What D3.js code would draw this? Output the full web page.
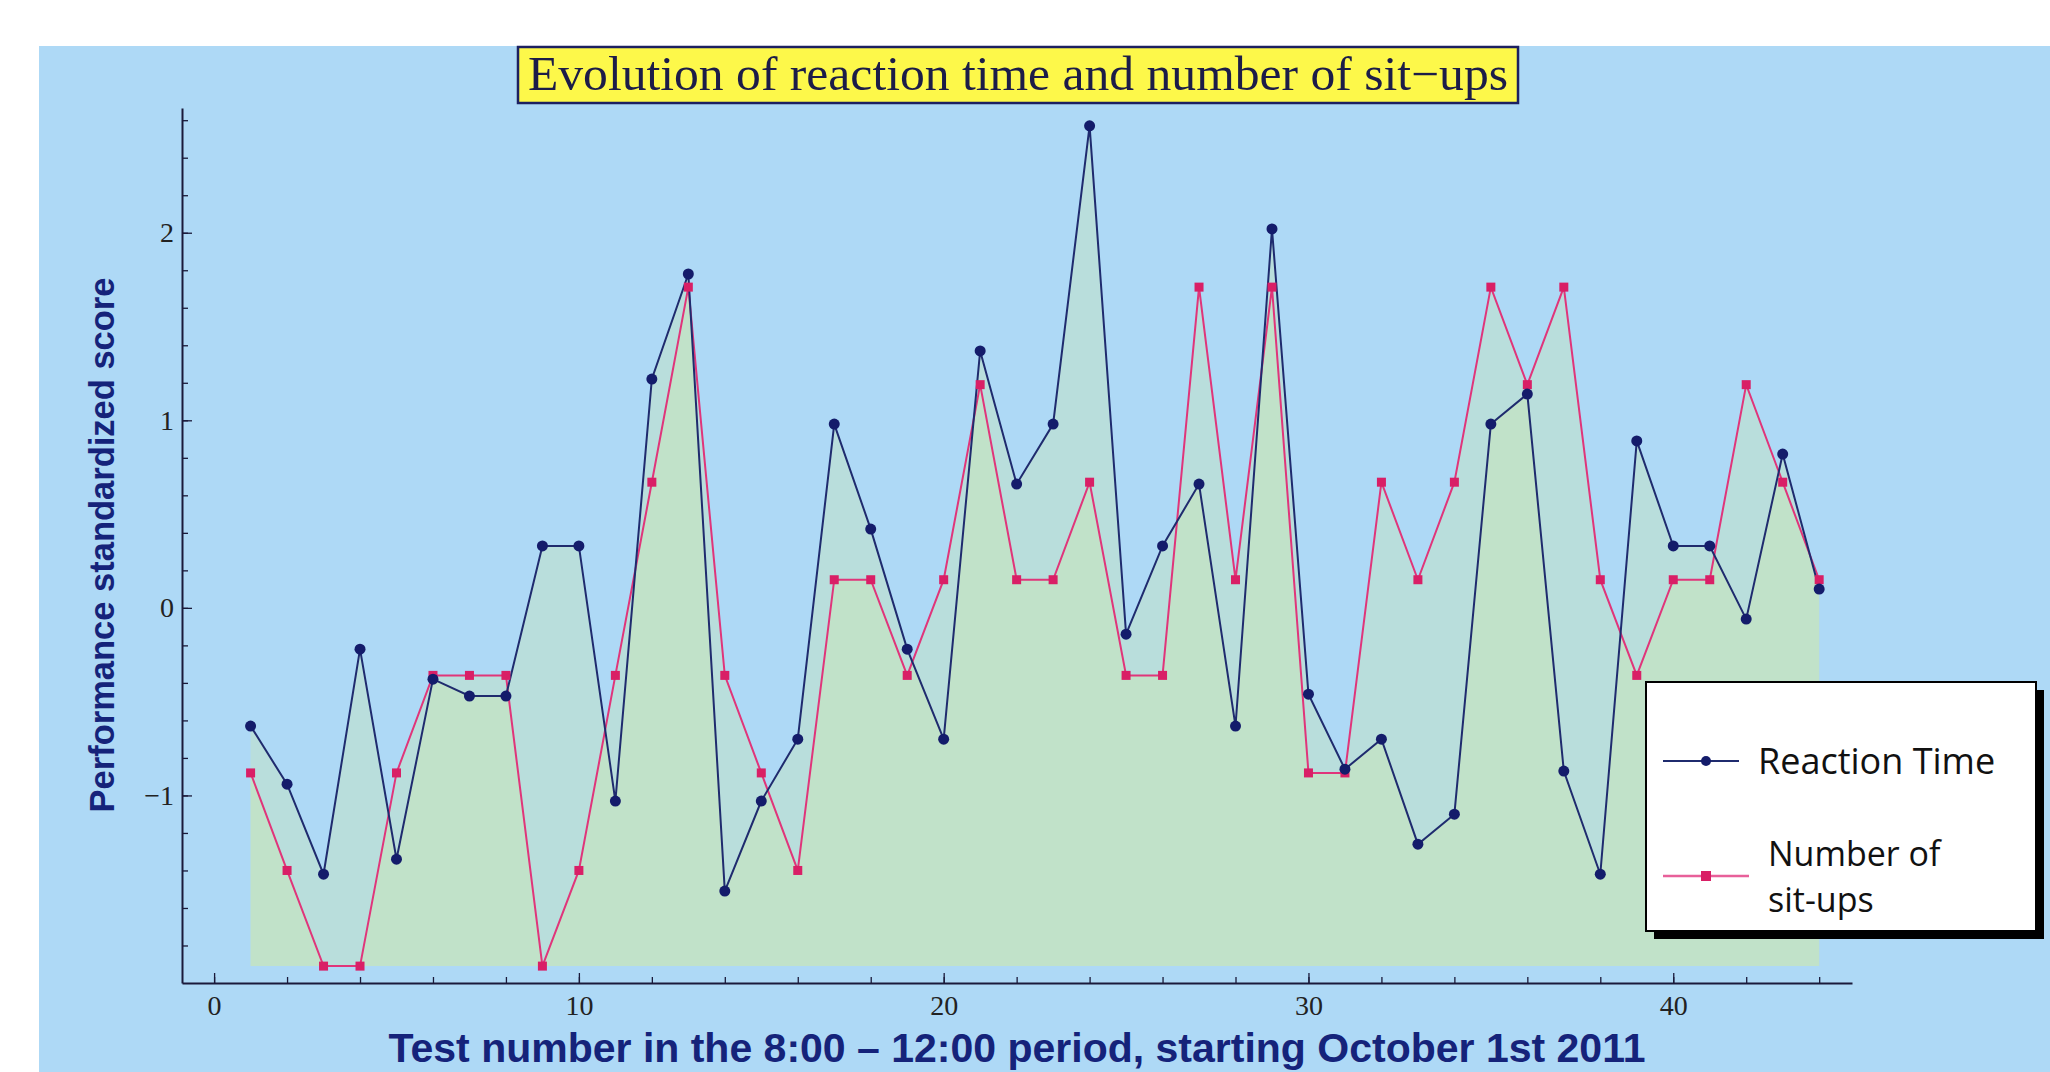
<!DOCTYPE html>
<html>
<head>
<meta charset="utf-8">
<script src="https://cdn.jsdelivr.net/npm/d3@7"></script>
<style>
  html, body { margin: 0; padding: 0; background: #ffffff; }
  svg { display: block; }
</style>
</head>
<body>
<div id="chart"></div>
<script>
// Data (standardized scores)
const testNumbers = [1, 2, 3, 4, 5, 6, 7, 8, 9, 10, 11, 12, 13, 14, 15, 16, 17, 18, 19, 20, 21, 22,
  23, 24, 25, 26, 27, 28, 29, 30, 31, 32, 33, 34, 35, 36, 37, 38, 39, 40, 41, 42, 43, 44];
const reactionTime = [-0.63, -0.94, -1.42, -0.22, -1.34, -0.38, -0.47, -0.47, 0.33, 0.33, -1.03,
  1.22, 1.78, -1.51, -1.03, -0.70, 0.98, 0.42, -0.22, -0.70, 1.37, 0.66, 0.98, 2.57, -0.14, 0.33,
  0.66, -0.63, 2.02, -0.46, -0.86, -0.70, -1.26, -1.10, 0.98, 1.14, -0.87, -1.42, 0.89, 0.33,
  0.33, -0.06, 0.82, 0.10];
const sitUps = [-0.88, -1.40, -1.91, -1.91, -0.88, -0.36, -0.36, -0.36, -1.91, -1.40, -0.36, 0.67,
  1.71, -0.36, -0.88, -1.40, 0.15, 0.15, -0.36, 0.15, 1.19, 0.15, 0.15, 0.67, -0.36, -0.36, 1.71,
  0.15, 1.71, -0.88, -0.88, 0.67, 0.15, 0.67, 1.71, 1.19, 1.71, 0.15, -0.36, 0.15, 0.15, 1.19,
  0.67, 0.15];
const xMajorTicks = [0, 10, 20, 30, 40];
const yMajorTicks = [-1, 0, 1, 2];
const seriesNames = ['Reaction Time', 'Number of|sit-ups'];

const W = 2050, H = 1072;
const navy = '#141c6b';
const pink = '#e0357a';

const svg = d3.select('#chart').append('svg')
  .attr('width', W).attr('height', H)
  .attr('viewBox', `0 0 ${W} ${H}`);

// Panel background
svg.append('rect').attr('x', 39).attr('y', 46).attr('width', W - 39).attr('height', H - 46)
  .attr('fill', '#aed9f6');

// Scales
const x = d3.scaleLinear().domain([-0.88, 44.9]).range([182, 1852]);
const y = d3.scaleLinear().domain([-2.0, 2.665]).range([983, 108]);

const base = d3.min([d3.min(reactionTime), d3.min(sitUps)]);

// Fills (filling down to the bottom of the data range)
[reactionTime, sitUps].forEach(vals => {
  const area = d3.area()
    .x((d, i) => x(testNumbers[i]))
    .y0(y(base))
    .y1(d => y(d));
  svg.append('path').datum(vals)
    .attr('fill', 'rgb(212,236,160)').attr('fill-opacity', 0.3)
    .attr('d', area);
});

// Axes: minor ticks
const tickRange = (a, b, s) => d3.range(a, b + s / 2, s).map(v => +v.toFixed(2));
svg.append('g').attr('transform', `translate(0,${y.range()[0]})`)
  .call(d3.axisBottom(x).tickValues(tickRange(0, 44, 2)).tickSizeInner(-6).tickSizeOuter(0).tickFormat(''))
  .call(ax => ax.selectAll('line').attr('stroke', '#1a1a3a').attr('stroke-width', 1.3))
  .call(ax => ax.select('.domain').attr('stroke', '#1a1a3a').attr('stroke-width', 2));
svg.append('g').attr('transform', `translate(${x.range()[0]},0)`)
  .call(d3.axisLeft(y).tickValues(tickRange(-1.8, 2.6, 0.2)).tickSizeInner(-6).tickSizeOuter(0).tickFormat(''))
  .call(ax => ax.selectAll('line').attr('stroke', '#1a1a3a').attr('stroke-width', 1.3))
  .call(ax => ax.select('.domain').attr('stroke', '#1a1a3a').attr('stroke-width', 2));

// Axes: major ticks with labels
svg.append('g').attr('transform', `translate(0,${y.range()[0]})`)
  .call(d3.axisBottom(x).tickValues(xMajorTicks).tickSizeInner(-10).tickSizeOuter(0).tickPadding(12))
  .call(ax => ax.select('.domain').remove())
  .call(ax => ax.selectAll('line').attr('stroke', '#1a1a3a').attr('stroke-width', 1.3))
  .call(ax => ax.selectAll('text').attr('font-family', '"Liberation Serif", serif')
    .attr('font-size', 28).attr('fill', '#222'));
svg.append('g').attr('transform', `translate(${x.range()[0]},0)`)
  .call(d3.axisLeft(y).tickValues(yMajorTicks).tickSizeInner(-10).tickSizeOuter(0).tickPadding(8)
    .tickFormat(d3.format('d')))
  .call(ax => ax.select('.domain').remove())
  .call(ax => ax.selectAll('line').attr('stroke', '#1a1a3a').attr('stroke-width', 1.3))
  .call(ax => ax.selectAll('text').attr('font-family', '"Liberation Serif", serif')
    .attr('font-size', 28).attr('fill', '#222'));

// Lines
const line = d3.line().x((d, i) => x(testNumbers[i])).y(d => y(d));
svg.append('path').datum(sitUps).attr('fill', 'none')
  .attr('stroke', pink).attr('stroke-width', 2).attr('d', line);
svg.append('path').datum(reactionTime).attr('fill', 'none')
  .attr('stroke', '#1f2b6e').attr('stroke-width', 2).attr('d', line);

// Markers
svg.append('g').selectAll('rect').data(sitUps).join('rect')
  .attr('x', (d, i) => x(testNumbers[i]) - 4.5).attr('y', d => y(d) - 4.5)
  .attr('width', 9).attr('height', 9).attr('fill', '#d91f66');
svg.append('g').selectAll('circle').data(reactionTime).join('circle')
  .attr('cx', (d, i) => x(testNumbers[i])).attr('cy', d => y(d))
  .attr('r', 5.5).attr('fill', navy);

// Title box
const tG = svg.append('g');
tG.append('rect').attr('x', 518).attr('y', 47).attr('width', 1000).attr('height', 56)
  .attr('fill', '#fdf84a').attr('stroke', '#1c2060').attr('stroke-width', 2.5);
tG.append('text').attr('x', 1018).attr('y', 90).attr('text-anchor', 'middle')
  .attr('font-family', '"Liberation Serif", serif').attr('font-size', 48)
  .attr('textLength', 980).attr('lengthAdjust', 'spacingAndGlyphs')
  .attr('fill', '#1c1c48').text('Evolution of reaction time and number of sit\u2212ups');

// Axis titles
svg.append('text').attr('x', 1017).attr('y', 1062).attr('text-anchor', 'middle')
  .attr('font-family', '"Liberation Sans", Arial, sans-serif').attr('font-weight', 'bold')
  .attr('font-size', 41).attr('fill', '#15237a')
  .text('Test number in the 8:00 \u2013 12:00 period, starting October 1st 2011');
svg.append('text').attr('transform', 'translate(114,545) rotate(-90)').attr('text-anchor', 'middle')
  .attr('font-family', '"Liberation Sans", Arial, sans-serif').attr('font-weight', 'bold')
  .attr('font-size', 34.5).attr('fill', '#15237a')
  .text('Performance standardized score');

// Legend
const lg = svg.append('g');
lg.append('rect').attr('x', 1654).attr('y', 690).attr('width', 390).attr('height', 249).attr('fill', '#000');
lg.append('rect').attr('x', 1646).attr('y', 682).attr('width', 390).attr('height', 249)
  .attr('fill', '#fff').attr('stroke', '#000').attr('stroke-width', 2);
lg.append('line').attr('x1', 1663).attr('x2', 1739).attr('y1', 761).attr('y2', 761)
  .attr('stroke', '#1f2b6e').attr('stroke-width', 2);
lg.append('circle').attr('cx', 1706).attr('cy', 761).attr('r', 5).attr('fill', navy);
lg.append('text').attr('x', 1758).attr('y', 774).attr('font-family', '"Open Sans", sans-serif')
  .attr('font-size', 36).attr('fill', '#111').text(seriesNames[0]);
lg.append('line').attr('x1', 1663).attr('x2', 1749).attr('y1', 876).attr('y2', 876)
  .attr('stroke', '#e8609a').attr('stroke-width', 2.5);
lg.append('rect').attr('x', 1701).attr('y', 871).attr('width', 10).attr('height', 10).attr('fill', '#d91f66');
seriesNames[1].split('|').forEach((t, i) => {
  lg.append('text').attr('x', 1768).attr('y', 866 + i * 46).attr('font-family', '"Open Sans", sans-serif')
    .attr('font-size', 34).attr('fill', '#111').text(t);
});
</script>
</body>
</html>
